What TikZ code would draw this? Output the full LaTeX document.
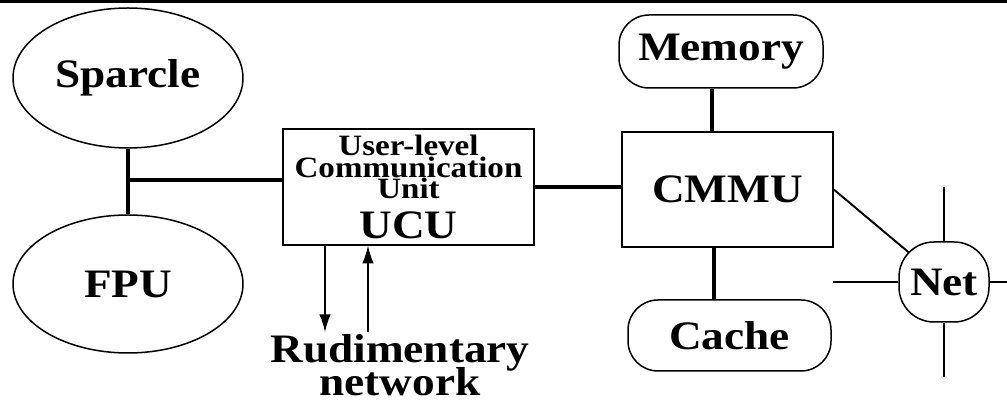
\documentclass[tikz,border=0pt]{standalone}
\usepackage{fontspec}
\setmainfont{Liberation Serif}[FakeStretch=1.12]
\usetikzlibrary{shapes.geometric,arrows.meta,backgrounds}
\newcommand{\namefont}{\fontsize{23}{17}\selectfont\bfseries\lineskiplimit=-20pt}
\newcommand{\notefont}{\fontsize{16.8}{12.2}\selectfont\bfseries\lineskiplimit=-20pt}
\tikzset{
  part/.style={draw, line width=0.85pt, font=\namefont, inner sep=0pt},
  chip/.style={part, ellipse, minimum width=4.6cm, minimum height=2.8cm},
  block/.style={part, rectangle},
  store/.style={part, rectangle, rounded corners=0.6cm},
  bus/.style={line width=2.3pt},
  wire/.style={line width=1.1pt},
  flow/.style={line width=0.8pt, -{Latex[length=10pt,width=6.5pt]}},
}
\begin{document}
\begin{tikzpicture}
  \useasboundingbox (0,0) rectangle (20.14,8);
  \draw[line width=1.7pt] (0,7.97) -- (20.14,7.97);

  \node[chip] (sparcle) at (2.56,6.44) {Sparcle};
  \node[chip, minimum height=2.76cm] (fpu) at (2.56,2.32) {FPU};
  \node[block, minimum width=5.02cm, minimum height=2.32cm, align=center,
        font=\notefont] (ucu) at (8.17,4.26)
        {User-level\\Communication\\Unit\\[10.4pt]{\namefont UCU}};
  \node[block, minimum width=4.22cm, minimum height=2.3cm] (cmmu) at (14.55,4.21) {CMMU};
  \node[store, minimum width=4.08cm, minimum height=1.46cm] (mem) at (14.42,6.97) {Memory};
  \node[store, minimum width=4.06cm, minimum height=1.42cm] (cache) at (14.59,1.29) {Cache};
  \node[store, rounded corners=0.7cm, minimum width=1.8cm, minimum height=1.6cm,
        fill=white] (net) at (18.88,2.36) {Net};
  \node[font=\namefont, align=center, inner sep=0pt] (rudnet) at (8.0,0.7) {Rudimentary\\[2pt]network};

  \coordinate (junc) at (2.56,4.4);
  \draw[bus] (sparcle.south) -- (fpu.north);
  \draw[bus] (junc) -- (junc -| ucu.west);
  \draw[bus] (ucu.east) -- (ucu.east -| cmmu.west);
  \draw[bus] ([xshift=-5pt]mem.south) -- ([xshift=-5pt]mem.south |- cmmu.north);
  \draw[bus] ([xshift=-8.8pt]cache.north) -- ([xshift=-8.8pt]cache.north |- cmmu.south);

  \begin{scope}[on background layer]
    \draw[wire] (cmmu.east) -- (net.center);
  \end{scope}
  \coordinate (netup) at (18.88,4.26);
  \coordinate (netdown) at (18.88,0.46);
  \coordinate (netleft) at (16.66,2.36);
  \coordinate (netright) at (20.14,2.36);
  \draw[wire] (net.north) -- (netup);
  \draw[wire] (net.south) -- (netdown);
  \draw[wire] (net.west) -- (netleft);
  \draw[wire] (net.east) -- (netright);

  \coordinate (rxout) at (6.5,1.36);
  \coordinate (rxin) at (7.36,1.36);
  \draw[flow] (ucu.south -| rxout) -- (rxout);
  \draw[flow] (rxin) -- (rxin |- ucu.south);
\end{tikzpicture}
\end{document}
